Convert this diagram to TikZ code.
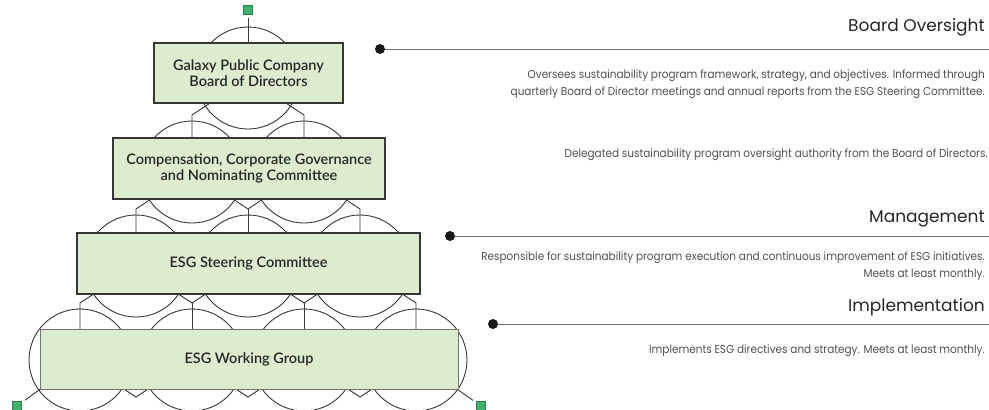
\documentclass[tikz,border=0pt]{standalone}
\usepackage{fontspec}
\setmainfont{Lato}
\newfontfamily\boxfont{Lato Semibold}
\newfontfamily\headfont{Poppins}
\newfontfamily\descfont[FakeStretch=0.91]{Poppins}
\usetikzlibrary{positioning}
\definecolor{boxgreen}{RGB}{221,235,207}
\definecolor{sqgreen}{RGB}{64,178,110}
\definecolor{linegray}{RGB}{55,55,55}
\definecolor{rulegray}{RGB}{110,110,110}
\definecolor{descgray}{RGB}{80,80,80}
\tikzset{
    ring/.style={circle, draw=linegray, line width=0.9pt, minimum size=102pt, inner sep=0pt},
    tier/.style={
        rectangle,
        draw=linegray,
        line width=1.2pt,
        fill=boxgreen,
        align=center,
        inner sep=0pt,
        text=black!85,
        font=\boxfont\fontsize{14.5}{16.5}\selectfont
    },
    endsq/.style={rectangle, fill=sqgreen, draw=sqgreen!70!black, line width=0.4pt, minimum size=9pt, inner sep=0pt},
    bullet/.style={circle, fill=black!90, minimum size=10pt, inner sep=0pt},
    heading/.style={anchor=east, inner sep=0pt, text=black!85, font=\headfont\fontsize{17}{20}\selectfont},
    desc/.style={anchor=east, inner sep=0pt, align=right, text=descgray, font=\descfont\fontsize{11.5}{17}\selectfont},
    link/.style={draw=linegray, line width=0.9pt},
    rule/.style={draw=rulegray, line width=0.8pt}
}

\begin{document}
\begin{tikzpicture}[x=1pt,y=-1pt]
	\useasboundingbox (0,0) rectangle (989,410);
	% circle lattice
	\node[ring] (c1) at (248,78) {};
	\node[ring] (c2a) at (192,172) {};
	\node[ring] (c2b) at (304,172) {};
	\node[ring] (c3a) at (136,266) {};
	\node[ring] (c3b) at (248,266) {};
	\node[ring] (c3c) at (360,266) {};
	\node[ring] (c4a) at (80,360) {};
	\node[ring] (c4b) at (192,360) {};
	\node[ring] (c4c) at (304,360) {};
	\node[ring] (c4d) at (416,360) {};
	\coordinate (j2a) at (192,115);
	\coordinate (j2b) at (304,115);
	\coordinate (j3a) at (136,209);
	\coordinate (j3b) at (248,209);
	\coordinate (j3c) at (360,209);
	\coordinate (j4a) at (80,303);
	\coordinate (j4b) at (192,303);
	\coordinate (j4c) at (304,303);
	\coordinate (j4d) at (416,303);
	\coordinate (j5b) at (136,397);
	\coordinate (j5c) at (248,397);
	\coordinate (j5d) at (360,397);
	\node[endsq] (sqT) at (248,10) {};
	\node[endsq] (sqL) at (17,406) {};
	\node[endsq] (sqR) at (481,406) {};
	\draw[link, shorten <=3pt] (sqT) -- (c1.center);
	\draw[link] (c1.center) -- (j2a) -- (c2a.center);
	\draw[link] (c1.center) -- (j2b) -- (c2b.center);
	\draw[link] (c2a.center) -- (j3a) -- (c3a.center);
	\draw[link] (c2a.center) -- (j3b) -- (c2b.center);
	\draw[link] (j3b) -- (c3b.center);
	\draw[link] (c2b.center) -- (j3c) -- (c3c.center);
	\draw[link] (c3a.center) -- (j4a) -- (c4a.center);
	\draw[link] (c3a.center) -- (j4b) -- (c3b.center);
	\draw[link] (j4b) -- (c4b.center);
	\draw[link] (c3b.center) -- (j4c) -- (c3c.center);
	\draw[link] (j4c) -- (c4c.center);
	\draw[link] (c3c.center) -- (j4d) -- (c4d.center);
	\draw[link] (c4a.center) -- (j5b) -- (c4b.center);
	\draw[link] (c4b.center) -- (j5c) -- (c4c.center);
	\draw[link] (c4c.center) -- (j5d) -- (c4d.center);
	\draw[link, shorten >=4pt] (c4a.center) -- (sqL);
	\draw[link, shorten >=4pt] (c4d.center) -- (sqR);
	% tiers
	\node[tier, minimum width=189pt, minimum height=60pt] (board) at (248.5,73) {Galaxy Public Company\\Board of Directors};
	\node[tier, minimum width=272pt, minimum height=61pt] (ccgnc) at (249,168.5) {Compensation, Corporate Governance\\and Nominating Committee};
	\node[tier, minimum width=343pt, minimum height=61pt] (steer) at (248.5,263.5) {ESG Steering Committee};
	\node[tier, minimum width=418pt, minimum height=60pt, draw=linegray!70, line width=0.8pt] (work) at (249,359) {ESG Working Group};
	% right column
	\node[bullet] (d1) at (380,49) {};
	\coordinate (e1) at (989,49);
	\draw[rule] (d1) -- (e1);
	\node[heading] (h1) at (985,27) {Board Oversight};
	\node[desc] (t1) at (985,84) {Oversees sustainability program framework, strategy, and objectives. Informed through\\quarterly Board of Director meetings and annual reports from the ESG Steering Committee.};
	\node[desc] (t2) at (988,155) {Delegated sustainability program oversight authority from the Board of Directors.};
	\node[bullet] (d2) at (450,236) {};
	\coordinate (e2) at (989,236);
	\draw[rule] (d2) -- (e2);
	\node[heading] (h2) at (985,218.5) {Management};
	\node[desc] (t3) at (985,266.5) {Responsible for sustainability program execution and continuous improvement of ESG initiatives.\\Meets at least monthly.};
	\node[bullet] (d3) at (493,324) {};
	\coordinate (e3) at (989,324);
	\draw[rule] (d3) -- (e3);
	\node[heading] (h3) at (985,307.5) {Implementation};
	\node[desc] (t4) at (985,351) {Implements ESG directives and strategy. Meets at least monthly.};
\end{tikzpicture}
\end{document}
